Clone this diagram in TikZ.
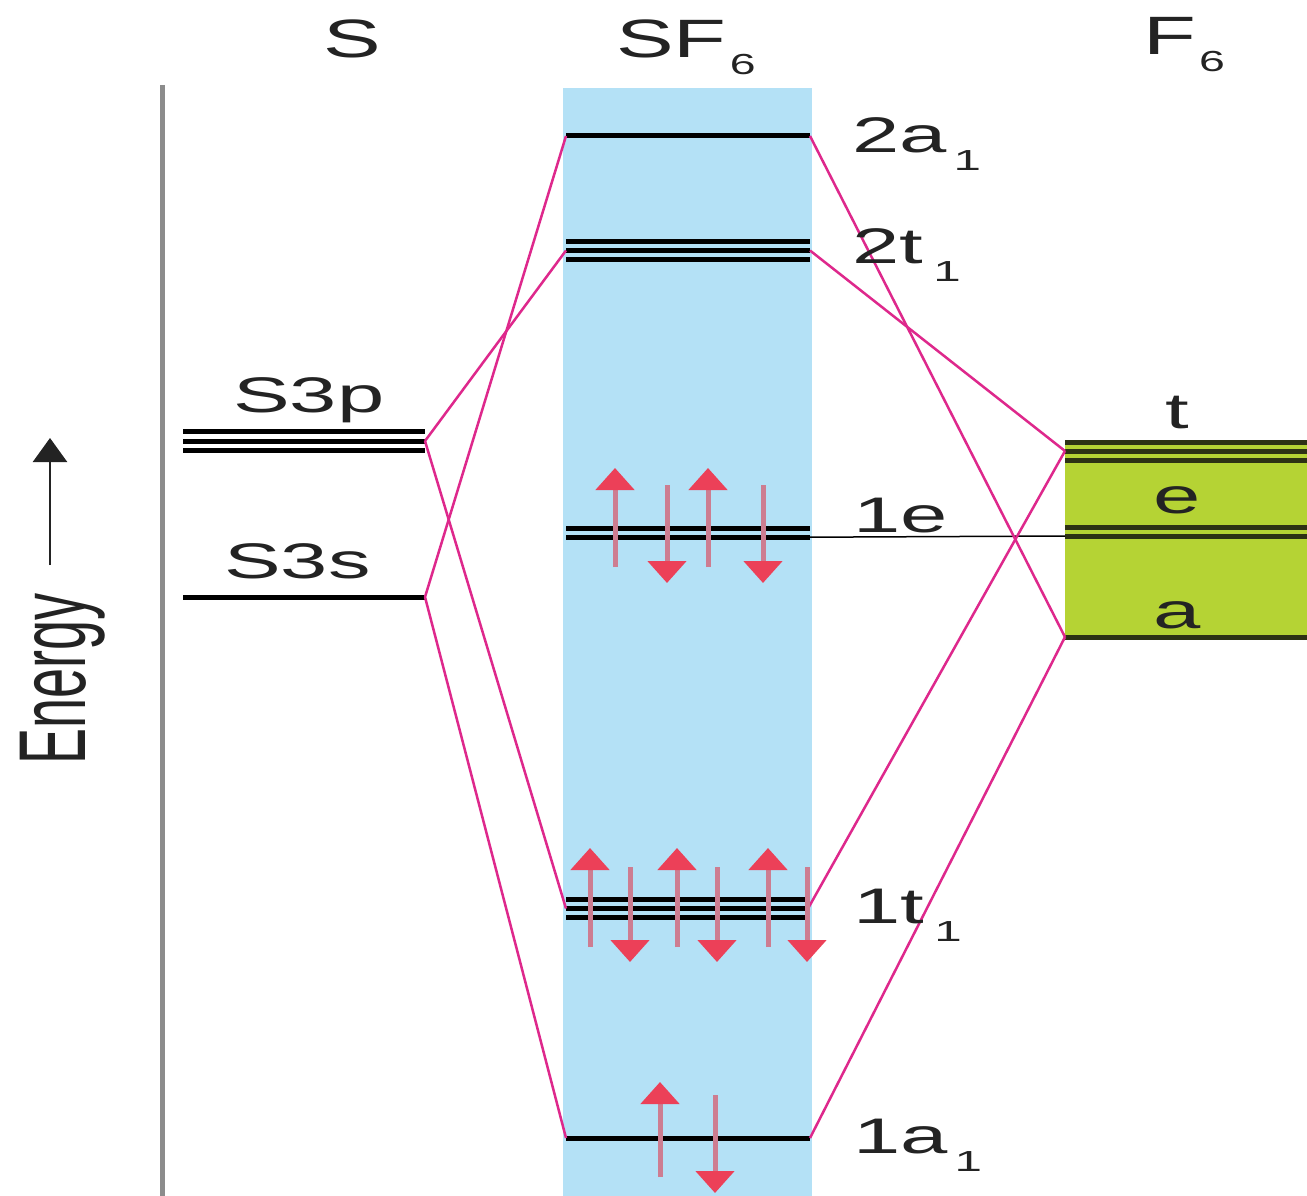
\documentclass[tikz,border=0pt]{standalone}
\usepackage{fontspec}
\setmainfont{Liberation Sans}
\usepackage{graphicx}
\usetikzlibrary{arrows.meta}
\definecolor{bandblue}{RGB}{180,225,246}
\definecolor{fgreen}{RGB}{181,211,52}
\definecolor{mag}{RGB}{222,40,140}
\definecolor{ered}{RGB}{236,64,88}
\definecolor{eshaft}{RGB}{205,125,145}
\definecolor{axisgray}{RGB}{140,140,140}
\definecolor{darkolive}{RGB}{45,50,20}
\definecolor{txt}{RGB}{35,35,35}
\newcommand{\mlbl}[3]{\scalebox{1.7}[1]{\fontsize{50}{50}\selectfont #1\kern#3pt\raisebox{-18pt}{\fontsize{29}{29}\selectfont #2}}}
\newcommand{\plainlbl}[1]{\scalebox{1.7}[1]{\fontsize{50}{50}\selectfont #1}}
\newcommand{\toplbl}[2]{\scalebox{1.6}[1]{\fontsize{54}{54}\selectfont #1\kern2pt\raisebox{-17pt}{\fontsize{29}{29}\selectfont #2}}}
\begin{document}
\begin{tikzpicture}[x=1pt,y=-1pt,
  level/.style={line width=5pt, black},
  flevel/.style={line width=5pt, darkolive},
  corr/.style={line width=2.5pt, mag},
  spin/.style={line width=5pt, eshaft, -{Triangle[length=22pt,width=38pt,color=ered]}},
  lbl/.style={inner sep=0pt, text=txt}]
\useasboundingbox (0,0) rectangle (1307,1196);
\fill[white] (0,0) rectangle (1307,1196);
% SF6 band and F6 box
\fill[bandblue] (563,88) rectangle (812,1196);
\fill[fgreen] (1065,442) rectangle (1307,637);
% axis
\coordinate (ax0) at (162,85);
\coordinate (ax1) at (162,1196);
\draw[line width=5pt, axisgray] (ax0) -- (ax1);
% energy arrow and label
\coordinate (ea0) at (50,565);
\coordinate (ea1) at (50,438);
\draw[line width=2.5pt, txt, -{Triangle[length=24pt,width=34pt]}] (ea0) -- (ea1);
\node[lbl, rotate=90, anchor=base west] (energy) at (85,765) {\scalebox{1.08}[1.9]{\fontsize{50}{50}\selectfont Energy}};
% level coordinates
\coordinate (S3p-l) at (183,441); \coordinate (S3p-r) at (425,441);
\coordinate (S3s-l) at (183,597); \coordinate (S3s-r) at (425,597);
\coordinate (a2-l) at (566,136);  \coordinate (a2-r) at (810,136);
\coordinate (t2-l) at (566,250.5);\coordinate (t2-r) at (810,250.5);
\coordinate (e1-l) at (566,533);  \coordinate (e1-r) at (810,533);
\coordinate (t1-l) at (566,908.5);\coordinate (t1-r) at (808,908.5);
\coordinate (a1-l) at (566,1138); \coordinate (a1-r) at (810,1138);
\coordinate (Ft-l) at (1065,451); \coordinate (Ft-r) at (1307,451);
\coordinate (Fe-l) at (1065,531.5); \coordinate (Fe-r) at (1307,531.5);
\coordinate (Fa-l) at (1065,637); \coordinate (Fa-r) at (1307,637);
% S levels
\foreach \s in {-9.5,0,9.5}
  \draw[level] ([yshift=\s pt]S3p-l) -- ([yshift=\s pt]S3p-r);
\draw[level] (S3s-l) -- (S3s-r);
% SF6 levels
\draw[level] (a2-l) -- (a2-r);
\foreach \s in {-8.7,0,8.7}
  \draw[level] ([yshift=\s pt]t2-l) -- ([yshift=\s pt]t2-r);
\foreach \s in {-4.2,4.2}
  \draw[level] ([yshift=\s pt]e1-l) -- ([yshift=\s pt]e1-r);
\foreach \s in {-8.6,0,8.6}
  \draw[level] ([yshift=\s pt]t1-l) -- ([yshift=\s pt]t1-r);
\draw[level] (a1-l) -- (a1-r);
% F6 levels
\foreach \s in {-9,0,9}
  \draw[flevel] ([yshift=\s pt]Ft-l) -- ([yshift=\s pt]Ft-r);
\foreach \s in {-4.5,4.5}
  \draw[flevel] ([yshift=\s pt]Fe-l) -- ([yshift=\s pt]Fe-r);
\draw[flevel] (Fa-l) -- (Fa-r);
% nonbonding link 1e -- e
\draw[line width=1.5pt, black] ([yshift=-4.2pt]e1-r) -- ([yshift=-4.5pt]Fe-l);
% correlation lines
\draw[corr] (S3p-r) -- (t2-l);
\draw[corr] (S3p-r) -- (t1-l);
\draw[corr] (S3s-r) -- (a2-l);
\draw[corr] (S3s-r) -- (a1-l);
\draw[corr] (a2-r) -- (Fa-l);
\draw[corr] (a1-r) -- (Fa-l);
\draw[corr] (t2-r) -- (Ft-l);
\draw[corr] (t1-r) -- (Ft-l);
% electrons 1e
\foreach \x in {615,708} {\coordinate (u\x a) at (\x,567); \coordinate (u\x b) at (\x,468); \draw[spin] (u\x a) -- (u\x b);}
\foreach \x in {667,763} {\coordinate (d\x a) at (\x,485); \coordinate (d\x b) at (\x,583); \draw[spin] (d\x a) -- (d\x b);}
% electrons 1t1
\foreach \x in {590,677,768} {\coordinate (tu\x a) at (\x,947); \coordinate (tu\x b) at (\x,848); \draw[spin] (tu\x a) -- (tu\x b);}
\foreach \x in {630,717,807} {\coordinate (td\x a) at (\x,867); \coordinate (td\x b) at (\x,962); \draw[spin] (td\x a) -- (td\x b);}
% electrons 1a1
\coordinate (au0) at (660,1177); \coordinate (au1) at (660,1082);
\draw[spin] (au0) -- (au1);
\coordinate (ad0) at (715,1095); \coordinate (ad1) at (715,1193);
\draw[spin] (ad0) -- (ad1);
% top labels
\node[lbl, anchor=base] (Stop) at (352,58) {\scalebox{1.6}[1]{\fontsize{54}{54}\selectfont S}};
\node[lbl, anchor=base west] (SFtop) at (616,58) {\toplbl{SF}{6}};
\node[lbl, anchor=base west] (Ftop) at (1143,55) {\toplbl{F}{6}};
% S labels
\node[lbl, anchor=base west] (S3plab) at (233,412) {\plainlbl{S3p}};
\node[lbl, anchor=base west] (S3slab) at (224,578) {\plainlbl{S3s}};
% SF6 level labels
\node[lbl, anchor=base west] (a2lab) at (852,153) {\mlbl{2a}{1}{4}};
\node[lbl, anchor=base west] (t2lab) at (852,263) {\mlbl{2t}{1}{6}};
\node[lbl, anchor=base west] (e1lab) at (853,532) {\plainlbl{1e}};
\node[lbl, anchor=base west] (t1lab) at (853,923) {\mlbl{1t}{1}{6}};
\node[lbl, anchor=base west] (a1lab) at (853,1153) {\mlbl{1a}{1}{4}};
% F6 labels
\node[lbl, anchor=base] (tlab) at (1177,428) {\plainlbl{t}};
\node[lbl, anchor=base] (elab) at (1177,513) {\plainlbl{e}};
\node[lbl, anchor=base] (alab) at (1177,628) {\plainlbl{a}};
\end{tikzpicture}
\end{document}
